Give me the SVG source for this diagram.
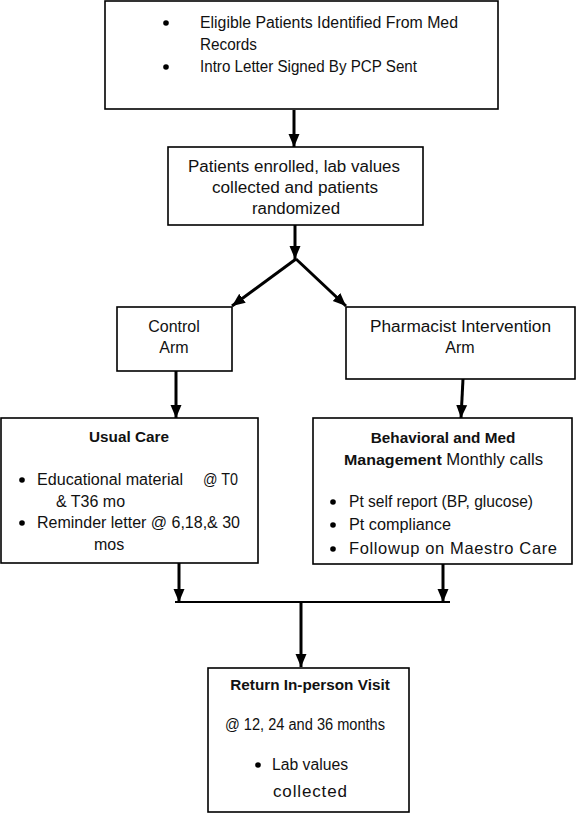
<svg xmlns="http://www.w3.org/2000/svg" width="576" height="815" viewBox="0 0 576 815">
<defs>
<marker id="ah" markerUnits="userSpaceOnUse" markerWidth="14" markerHeight="14" viewBox="0 0 14 14" refX="13" refY="7" orient="auto">
<path d="M0,1.5 L13,7 L0,12.5 Z" fill="#000"/>
</marker>
<style>
.box{fill:#fff;stroke:#000;stroke-width:1.6}
.t{font-family:"Liberation Sans",Arial,sans-serif;font-size:16px;fill:#111}
.c{text-anchor:middle}
.b{font-weight:bold;font-size:15.3px}
.ar{stroke:#000;stroke-width:3;fill:none;marker-end:url(#ah)}
.ln{stroke:#000;stroke-width:2;fill:none}
</style>
</defs>
<rect width="576" height="815" fill="#fff"/>
<g id="connectors">
<line class="ar" x1="294" y1="110" x2="294" y2="147"/>
<line class="ar" x1="295" y1="225" x2="295" y2="259"/>
<line class="ar" x1="296" y1="259" x2="232" y2="306"/>
<line class="ar" x1="296" y1="259" x2="346" y2="306"/>
<line class="ar" x1="176" y1="371" x2="176" y2="418"/>
<line class="ar" x1="463" y1="379" x2="461" y2="418"/>
<line class="ar" x1="179" y1="563" x2="179" y2="602"/>
<line class="ar" x1="443" y1="564" x2="443" y2="602"/>
<line class="ln" x1="175" y1="602" x2="450" y2="602"/>
<line class="ar" x1="301" y1="602" x2="301" y2="667"/>
</g>
<g id="n1">
<rect class="box" x="105" y="1" width="393" height="108"/>
<circle cx="166" cy="23" r="2.8"/>
<circle cx="166" cy="67" r="2.8"/>
<text class="t" x="200" y="28" textLength="258" lengthAdjust="spacingAndGlyphs">Eligible Patients Identified From Med</text>
<text class="t" x="200" y="50" textLength="57" lengthAdjust="spacingAndGlyphs">Records</text>
<text class="t" x="200" y="72" textLength="217" lengthAdjust="spacingAndGlyphs">Intro Letter Signed By PCP Sent</text>
</g>
<g id="n2">
<rect class="box" x="168" y="147" width="255" height="78"/>
<text class="t" x="188" y="172" textLength="212" lengthAdjust="spacingAndGlyphs">Patients enrolled, lab values</text>
<text class="t" x="212" y="193" textLength="166" lengthAdjust="spacingAndGlyphs">collected and patients</text>
<text class="t" x="252" y="214" textLength="88" lengthAdjust="spacingAndGlyphs">randomized</text>
</g>
<g id="n3">
<rect class="box" x="117" y="307" width="115" height="64"/>
<text class="t c" x="174" y="332">Control</text>
<text class="t c" x="174" y="353">Arm</text>
</g>
<g id="n4">
<rect class="box" x="346" y="307" width="229" height="72"/>
<text class="t" x="370" y="332" textLength="181" lengthAdjust="spacingAndGlyphs">Pharmacist Intervention</text>
<text class="t c" x="460" y="353">Arm</text>
</g>
<g id="n5">
<rect class="box" x="1" y="418" width="257" height="145"/>
<text class="t c b" x="129" y="442">Usual Care</text>
<circle cx="22" cy="480" r="2.8"/>
<circle cx="22" cy="523" r="2.8"/>
<text class="t" x="37" y="485" textLength="146" lengthAdjust="spacingAndGlyphs">Educational material</text>
<text class="t" x="203" y="485" textLength="35" lengthAdjust="spacingAndGlyphs">@ T0</text>
<text class="t" x="56" y="507">&amp; T36 mo</text>
<text class="t" x="37" y="528" textLength="203" lengthAdjust="spacingAndGlyphs">Reminder letter @ 6,18,&amp; 30</text>
<text class="t" x="94" y="550">mos</text>
</g>
<g id="n6">
<rect class="box" x="313" y="418" width="259" height="146"/>
<text class="t c b" x="443" y="443">Behavioral and Med</text>
<text class="t" x="344" y="465" textLength="199" lengthAdjust="spacingAndGlyphs"><tspan class="b">Management</tspan> Monthly calls</text>
<circle cx="333" cy="502" r="2.8"/>
<circle cx="333" cy="525" r="2.8"/>
<circle cx="333" cy="549" r="2.8"/>
<text class="t" x="349" y="507" textLength="184" lengthAdjust="spacingAndGlyphs">Pt self report (BP, glucose)</text>
<text class="t" x="349" y="530" textLength="102" lengthAdjust="spacingAndGlyphs">Pt compliance</text>
<text class="t" x="349" y="554" textLength="208" lengthAdjust="spacing" style="font-size:16.5px">Followup on Maestro Care</text>
</g>
<g id="n7">
<rect class="box" x="208" y="668" width="201" height="144"/>
<text class="t c b" x="310" y="690">Return In-person Visit</text>
<text class="t" x="225" y="730" textLength="160" lengthAdjust="spacingAndGlyphs">@ 12, 24 and 36 months</text>
<circle cx="258" cy="765" r="2.8"/>
<text class="t" x="272" y="770" textLength="76" lengthAdjust="spacingAndGlyphs">Lab values</text>
<text class="t" x="273" y="797" textLength="74" lengthAdjust="spacing" style="font-size:17px">collected</text>
</g>
</svg>
